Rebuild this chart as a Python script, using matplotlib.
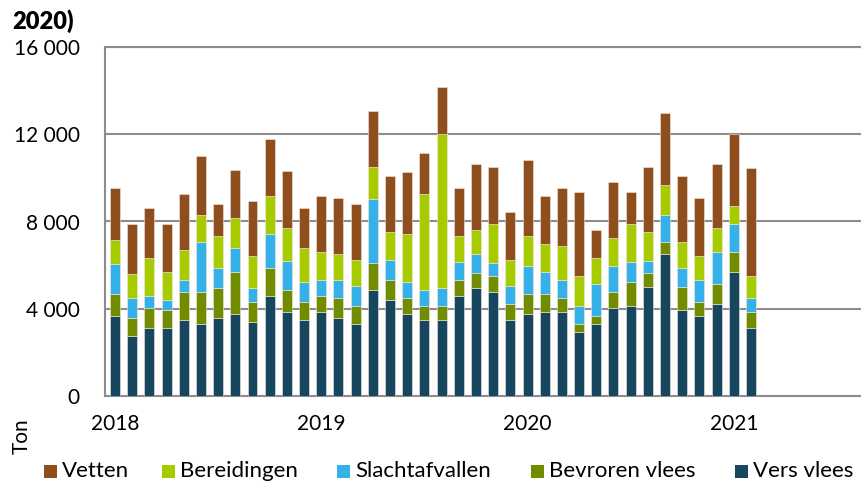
import matplotlib
matplotlib.use('Agg')
import matplotlib.pyplot as plt
from matplotlib.patches import Rectangle
import numpy as np

plt.rcParams['font.family'] = ['Lato', 'DejaVu Sans']

# maandelijkse waarden jan 2018 - feb 2021 (ton)
vers_vlees = [3670, 2750, 3120, 3120, 3480, 3300, 3570, 3760, 3390, 4570, 3850, 3480,
              3850, 3570, 3300, 4840, 4400, 3760, 3480, 3480, 4570, 4930, 4750, 3480,
              3760, 3850, 3850, 2930, 3300, 4020, 4110, 5020, 6490, 3940, 3670, 4200,
              5670, 3120]
bevroren_vlees = [1010, 810, 900, 810, 1270, 1450, 1360, 1910, 900, 1280, 990, 810,
                  720, 900, 810, 1280, 900, 720, 630, 630, 730, 730, 730, 720,
                  900, 810, 630, 350, 350, 730, 1100, 640, 550, 1080, 630, 920,
                  920, 720]
slachtafvallen = [1370, 920, 550, 460, 570, 2290, 920, 1120, 640, 1560, 1370, 920,
                  730, 830, 920, 2930, 920, 730, 730, 830, 830, 830, 640, 830,
                  1280, 1010, 830, 830, 1470, 1190, 920, 550, 1280, 830, 1010, 1470,
                  1280, 640]
bereidingen = [1100, 1120, 1760, 1300, 1370, 1280, 1480, 1370, 1480, 1740, 1480, 1570,
               1300, 1210, 1210, 1470, 1300, 2210, 4400, 7060, 1210, 1120, 1760, 1210,
               1390, 1300, 1570, 1390, 1210, 1300, 1760, 1300, 1370, 1210, 1120, 1120,
               840, 1020]
vetten = [2370, 2280, 2290, 2180, 2550, 2660, 1450, 2180, 2550, 2640, 2640, 1830,
          2550, 2550, 2550, 2550, 2550, 2830, 1920, 2180, 2180, 3010, 2640, 2180,
          3470, 2180, 2640, 3830, 1270, 2550, 1450, 3010, 3280, 3010, 2640, 2920,
          3280, 4930]

year_labels = ['2018', '2019', '2020', '2021']

series = [
    ('Vers vlees', vers_vlees, '#17475e'),
    ('Bevroren vlees', bevroren_vlees, '#728c00'),
    ('Slachtafvallen', slachtafvallen, '#34b1e8'),
    ('Bereidingen', bereidingen, '#a6cc00'),
    ('Vetten', vetten, '#8f4e1d'),
]

fig = plt.figure(figsize=(8.61, 4.88), dpi=100)
ax = fig.add_axes([105 / 861, 1 - 396 / 488, 1 - 105 / 861, 349 / 488])

x = np.arange(len(vers_vlees))
bottom = np.zeros(len(x))
for name, vals, col in series:
    ax.bar(x, vals, width=0.58, bottom=bottom, color=col, edgecolor='#f3e6e0',
           linewidth=0.4, zorder=3)
    bottom += np.array(vals)

ax.set_xlim(-0.58, 43.4)
ax.set_ylim(0, 16000)
ax.set_yticks([0, 4000, 8000, 12000, 16000])
ax.set_yticklabels(['0', '4 000', '8 000', '12 000', '16 000'])
ax.set_xticks([0, 12, 24, 36])
ax.set_xticklabels(year_labels)
ax.tick_params(axis='both', length=0, labelsize=15, colors='black')
ax.tick_params(axis='x', pad=13)
ax.tick_params(axis='y', pad=18)
ax.grid(axis='y', color='#8c8c8c', linewidth=1.5, zorder=0)
for s in ['left', 'top', 'bottom']:
    ax.spines[s].set_color('#8c8c8c')
    ax.spines[s].set_linewidth(1.5)
ax.spines['right'].set_visible(False)

fig.text(12 / 861, 1 - 21 / 488, '2020)', fontsize=17, fontweight='heavy',
         va='center', ha='left')
fig.text(22 / 861, 1 - 436 / 488, 'Ton', fontsize=15, rotation=90,
         va='center', ha='center')

# legende onderaan, handmatig geplaatst
legend_x = [44, 162, 337, 531, 735]
for lx, (name, vals, col) in zip(legend_x, series[::-1]):
    fig.patches.append(Rectangle((lx / 861, 1 - 478 / 488), 13 / 861, 13 / 488,
                                 facecolor=col, transform=fig.transFigure))
    fig.text((lx + 18) / 861, 1 - 471 / 488, name, fontsize=16,
             va='center', ha='left')

fig.savefig('out.png', dpi=100)
